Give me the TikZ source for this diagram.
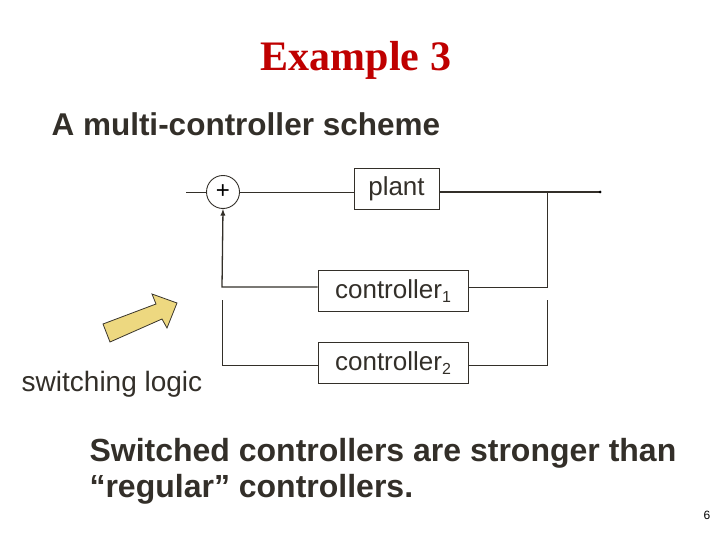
\documentclass[tikz,border=0pt]{standalone}
\usepackage{fontspec}
\setmainfont{Liberation Sans}
\newfontfamily\tnr{Liberation Serif}
\newcommand{\subtxt}[1]{\raisebox{-0.3ex}{\fontsize{16}{16}\selectfont #1}}
\begin{document}
\begin{tikzpicture}[x=1pt,y=-1pt,
  ln/.style={draw=black!85!olive, line width=0.9pt},
  box/.style={draw=black!85!olive, line width=0.9pt, minimum height=41pt, inner sep=0pt, font=\fontsize{26}{28}\selectfont, text=black!85!olive}]
\useasboundingbox (0,0) rectangle (720,540);
\node[text=red!75!black, font=\tnr\bfseries\fontsize{42}{46}\selectfont] (title) at (356,60) {Example 3};
\node[anchor=west, font=\bfseries\fontsize{31.5}{34}\selectfont, text=black!85!olive] (sub) at (48,124) {A multi-controller scheme};
\node[circle, draw=black!85!olive, line width=0.9pt, minimum size=33pt, inner sep=0pt, font=\fontsize{24}{26}\selectfont] (sum) at (223,192) {+};
\node[box, minimum width=85pt] (plant) at (396.5,188.5) {plant};
\node[box, minimum width=150pt] (c1) at (393,291) {controller\subtxt{1}};
\node[box, minimum width=150pt] (c2) at (393,363) {controller\subtxt{2}};
\coordinate (in) at (186,192);
\coordinate (out) at (600,192);
\coordinate (br) at (547,192);
\draw[ln] (in) -- (sum.west);
\draw[ln] (sum.east) -- (plant.west |- sum.east);
\draw[ln, line width=1.3pt] (plant.east |- br) -- (out);
\fill (out) circle (1.5pt);
\draw[ln] (br) -- (547,287) -- (c1.east |- 0,287);
\draw[ln] (547,300) -- (547,365) -- (c2.east |- 0,365);
\draw[ln, line width=1.3pt, -latex] (c1.west |- 0,287) -- (222,287) -- (sum.south);
\draw[ln] (222,300) -- (222,365) -- (c2.west |- 0,365);
\draw[draw=black!80!olive, fill=yellow!50!brown!60!white, line width=0.8pt] (110,342) -- (103,324) -- (156,304) -- (152,294) -- (177,303) -- (167,328) -- (162,319) -- cycle;
\node[font=\fontsize{28}{30}\selectfont, text=black!85!olive] (sw) at (112,384) {switching logic};
\node[anchor=north west, align=left, font=\bfseries\fontsize{32}{36}\selectfont, text=black!85!olive] (txt) at (86,435) {Switched controllers are stronger than\\``regular'' controllers.};
\node[font=\fontsize{12}{14}\selectfont] (pg) at (707,515) {6};
\end{tikzpicture}
\end{document}
